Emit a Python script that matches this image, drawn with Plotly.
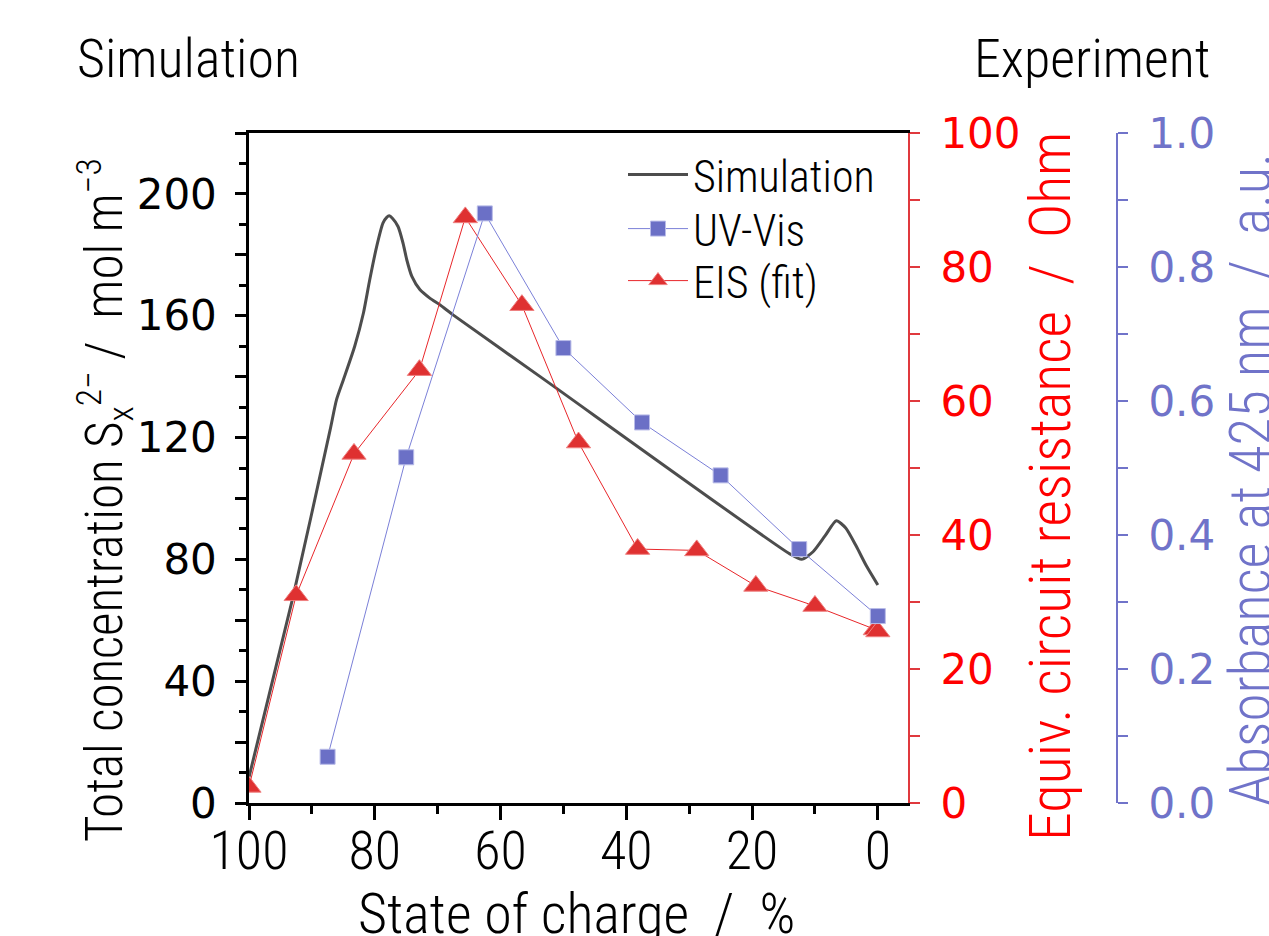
import plotly.graph_objects as go

# --- data -------------------------------------------------------------
# simulated total polysulfide concentration vs. state of charge
sim_soc = [100, 93.0, 87.1, 86.1, 85.0, 83.2, 81.8, 80.8, 79.7, 78.7, 78.1,
           77.7, 77.2, 76.3, 75.5, 74.9, 74.1, 72.8, 71.2, 69.6, 67.5,
           53.7, 14.0, 12.1, 10.3, 8.4, 6.6, 5.1, 3.4, 1.8, 0]
sim_conc = [8.5, 67.7, 122.5, 132.3, 138.9, 149.9, 160.9, 171.8, 182.7, 190.4, 192.3,
            192.8, 192.0, 189.3, 183.8, 178.3, 172.9, 168.5, 165.7, 163.5, 160.2,
            140.0, 81.8, 80.0, 82.5, 87.7, 92.7, 90.3, 84.2, 77.8, 71.6]

# UV-Vis absorbance at 425 nm
uv_soc = [87.5, 75, 62.5, 50, 37.5, 25, 12.5, 0]
uv_abs = [0.069, 0.516, 0.880, 0.679, 0.568, 0.489, 0.379, 0.279]

# equivalent circuit resistance from EIS fit
eis_soc = [100, 92.5, 83.3, 72.9, 65.6, 56.6, 47.6, 38.2, 28.8, 19.4, 10.0, 0.4, 0]
eis_res = [2.4, 31.0, 52.1, 64.6, 87.4, 74.3, 53.8, 37.9, 37.7, 32.4, 29.4, 25.9, 25.6]

# axis ticks
conc_ticks = list(range(0, 221, 20))
conc_labels = [str(v) if v % 40 == 0 else "" for v in conc_ticks]
res_ticks = list(range(0, 101, 10))
res_labels = [str(v) if v % 20 == 0 else "" for v in res_ticks]
abs_ticks = [i / 10 for i in range(11)]
abs_labels = [f"{v:.1f}" if i % 2 == 0 else "" for i, v in enumerate(abs_ticks)]
soc_ticks = [100, 80, 60, 40, 20, 0]

# --- styling ----------------------------------------------------------
NARROW = "Roboto Condensed, Noto Sans Condensed, DejaVu Sans Condensed, Liberation Sans Narrow, Lato, sans-serif"
WIDE = "DejaVu Sans, Verdana, sans-serif"
BLACK = "#000000"
RED = "#ff0000"
RED_AX = "#e0393e"
BLUE = "#7073c9"
SIM = "#4d4d4d"

fig = go.Figure()

fig.add_trace(go.Scatter(
    x=sim_soc, y=sim_conc, name="Simulation", mode="lines",
    line=dict(color=SIM, width=3, shape="spline", smoothing=0.6),
    yaxis="y", legend="legend",
))
fig.add_trace(go.Scatter(
    x=uv_soc, y=uv_abs, name="UV-Vis", mode="lines+markers",
    line=dict(color="#7b80d8", width=1),
    marker=dict(symbol="square", size=15, color="#6b70c6",
                line=dict(color="#b9bce8", width=1)),
    yaxis="y3", legend="legend2",
))
fig.add_trace(go.Scatter(
    x=eis_soc, y=eis_res, name="EIS (fit)", mode="lines+markers",
    line=dict(color="#e8262a", width=1),
    marker=dict(symbol="triangle-up", size=21, color="#df3131",
                line=dict(color="#ef8080", width=1)),
    yaxis="y2", legend="legend3",
))

plot_w = 868.0
x_dom = (908 - 249) / plot_w

def px_x(px):
    return (px - 249) / plot_w

def px_y(py):
    return (803 - py) / 670

def legend_row(py):
    return dict(x=px_x(623), y=px_y(py), xanchor="left", yanchor="middle",
                bgcolor="rgba(0,0,0,0)", itemwidth=60,
                font=dict(family=NARROW, size=44, color=BLACK, weight=300))

fig.update_layout(
    width=1269, height=936,
    margin=dict(l=249, r=152, t=133, b=133),
    paper_bgcolor="white", plot_bgcolor="white",
    showlegend=True,
    legend=legend_row(175),
    legend2=legend_row(229),
    legend3=legend_row(281),
    xaxis=dict(
        domain=[0, x_dom], range=[100, -4.8], showgrid=False, zeroline=False,
        showline=True, linecolor=BLACK, linewidth=2.5, mirror=True,
        ticks="outside", ticklen=14, tickwidth=2.5, tickcolor=BLACK,
        tickvals=soc_ticks, ticktext=[str(v) for v in soc_ticks],
        ticklabelstandoff=-16,
        tickfont=dict(family=NARROW, size=54, color=BLACK, weight=300),
        minor=dict(dtick=10, ticklen=8, tickwidth=2.5, tickcolor=BLACK, ticks="outside"),
    ),
    yaxis=dict(
        range=[0, 220], showgrid=False, zeroline=False,
        showline=True, linecolor=BLACK, linewidth=2.5,
        ticks="outside", ticklen=11, tickwidth=2.5, tickcolor=BLACK,
        tickvals=conc_ticks, ticktext=conc_labels, ticklabelstandoff=10,
        tickfont=dict(family=WIDE, size=42, color=BLACK),
        minor=dict(dtick=10, ticklen=7, tickwidth=2.5, tickcolor=BLACK, ticks="outside"),
    ),
    yaxis2=dict(
        range=[0, 100], overlaying="y", side="right", anchor="x",
        showgrid=False, zeroline=False,
        showline=True, linecolor=RED_AX, linewidth=2,
        ticks="outside", ticklen=10, tickwidth=2, tickcolor=RED_AX,
        tickvals=res_ticks, ticktext=res_labels, ticklabelstandoff=12,
        tickfont=dict(family=WIDE, size=42, color=RED),
    ),
    yaxis3=dict(
        range=[0, 1], overlaying="y", side="right", anchor="free", position=1.0,
        showgrid=False, zeroline=False,
        showline=True, linecolor=BLUE, linewidth=2,
        ticks="outside", ticklen=10, tickwidth=2, tickcolor=BLUE,
        tickvals=abs_ticks, ticktext=abs_labels, ticklabelstandoff=12,
        tickfont=dict(family=WIDE, size=42, color=BLUE),
    ),
)

annos = [
    dict(text="Simulation", x=px_x(75), y=px_y(58), xanchor="left", yanchor="middle",
         font=dict(family=NARROW, size=54, color=BLACK, weight=300)),
    dict(text="Experiment", x=px_x(1212), y=px_y(58), xanchor="right", yanchor="middle",
         font=dict(family=NARROW, size=54, color=BLACK, weight=300)),
    dict(text="State of charge  /  %", x=px_x(576), y=px_y(914), xanchor="center", yanchor="middle",
         font=dict(family=NARROW, size=56, color=BLACK, weight=300)),
    dict(text="Total concentration S<sub>x</sub><sup>2−</sup> /  mol m<sup>−3</sup>",
         x=px_x(105), y=px_y(500), xanchor="center", yanchor="middle", textangle=-90,
         font=dict(family=NARROW, size=51, color=BLACK, weight=300)),
    dict(text="Equiv. circuit resistance  /  Ohm",
         x=px_x(1050), y=px_y(487), xanchor="center", yanchor="middle", textangle=-90,
         font=dict(family=NARROW, size=58, color=RED, weight=300)),
    dict(text="Absorbance at 425 nm  /  a.u.",
         x=px_x(1250), y=px_y(480), xanchor="center", yanchor="middle", textangle=-90,
         font=dict(family=NARROW, size=57, color=BLUE, weight=300)),
]
for a in annos:
    fig.add_annotation(xref="paper", yref="paper", showarrow=False, **a)

fig.write_html("out.html")
